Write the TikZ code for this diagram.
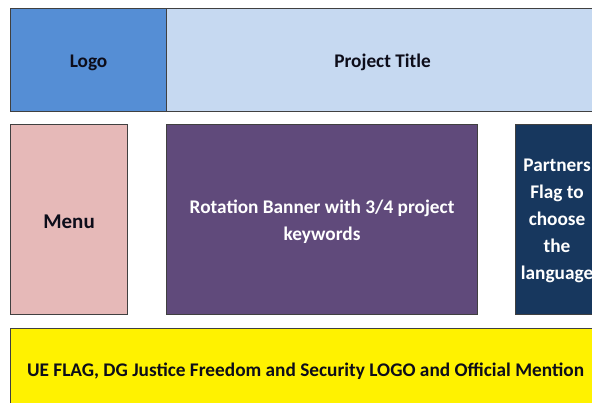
\documentclass[tikz,border=0pt]{standalone}
\usepackage{fontspec}
\setmainfont{Carlito}
\definecolor{logoblue}{HTML}{558ED5}
\definecolor{titleblue}{HTML}{C6D9F1}
\definecolor{menupink}{HTML}{E6B9B8}
\definecolor{bannerpurple}{HTML}{604A7B}
\definecolor{partnernavy}{HTML}{17375E}
\definecolor{edgegray}{HTML}{404040}
\definecolor{inkdark}{HTML}{0D0D1A}
\tikzset{
  panel/.style={draw=edgegray, line width=1.1pt, inner sep=0pt, anchor=north west},
  paneltext/.style={inner sep=0pt, align=center, yshift=-2.5pt, text=inkdark,
    font=\bfseries\fontsize{19.3}{27}\selectfont},
}
\begin{document}
\begin{tikzpicture}[x=1pt,y=1pt]
\useasboundingbox (0,0) rectangle (592,402);
\clip (0,0) rectangle (592,402);
\fill[white] (0,0) rectangle (592,402);
% top row
\node[panel, fill=titleblue, minimum width=432pt, minimum height=103pt] (title) at (166,394) {};
\node[panel, fill=logoblue, minimum width=156pt, minimum height=103pt] (logo) at (10,394) {};
% middle row
\node[panel, fill=menupink, minimum width=117pt, minimum height=190pt] (menu) at (10,278) {};
\node[panel, fill=bannerpurple, minimum width=311pt, minimum height=190pt] (banner) at (166,278) {};
\node[panel, fill=partnernavy, minimum width=83pt, minimum height=190pt] (partners) at (515,278) {};
% bottom row
\node[panel, fill=yellow, minimum width=590pt, minimum height=80pt] (footer) at (10,74) {};
% texts
\node[paneltext] (title-t) at (title.center) {Project Title};
\node[paneltext] (logo-t) at (logo.center) {Logo};
\node[paneltext, font=\bfseries\fontsize{21}{27}\selectfont] (menu-t) at (menu.center) {Menu};
\node[paneltext, text=white] (banner-t) at (banner.center) {Rotation Banner with 3/4 project\\keywords};
\node[paneltext, text=white, yshift=1pt] (partners-t) at (partners.center) {Partners\\Flag to\\choose\\the\\language};
\node[paneltext] (footer-t) at (footer.center) {UE FLAG, DG Justice Freedom and Security LOGO and Official Mention};
\end{tikzpicture}
\end{document}
